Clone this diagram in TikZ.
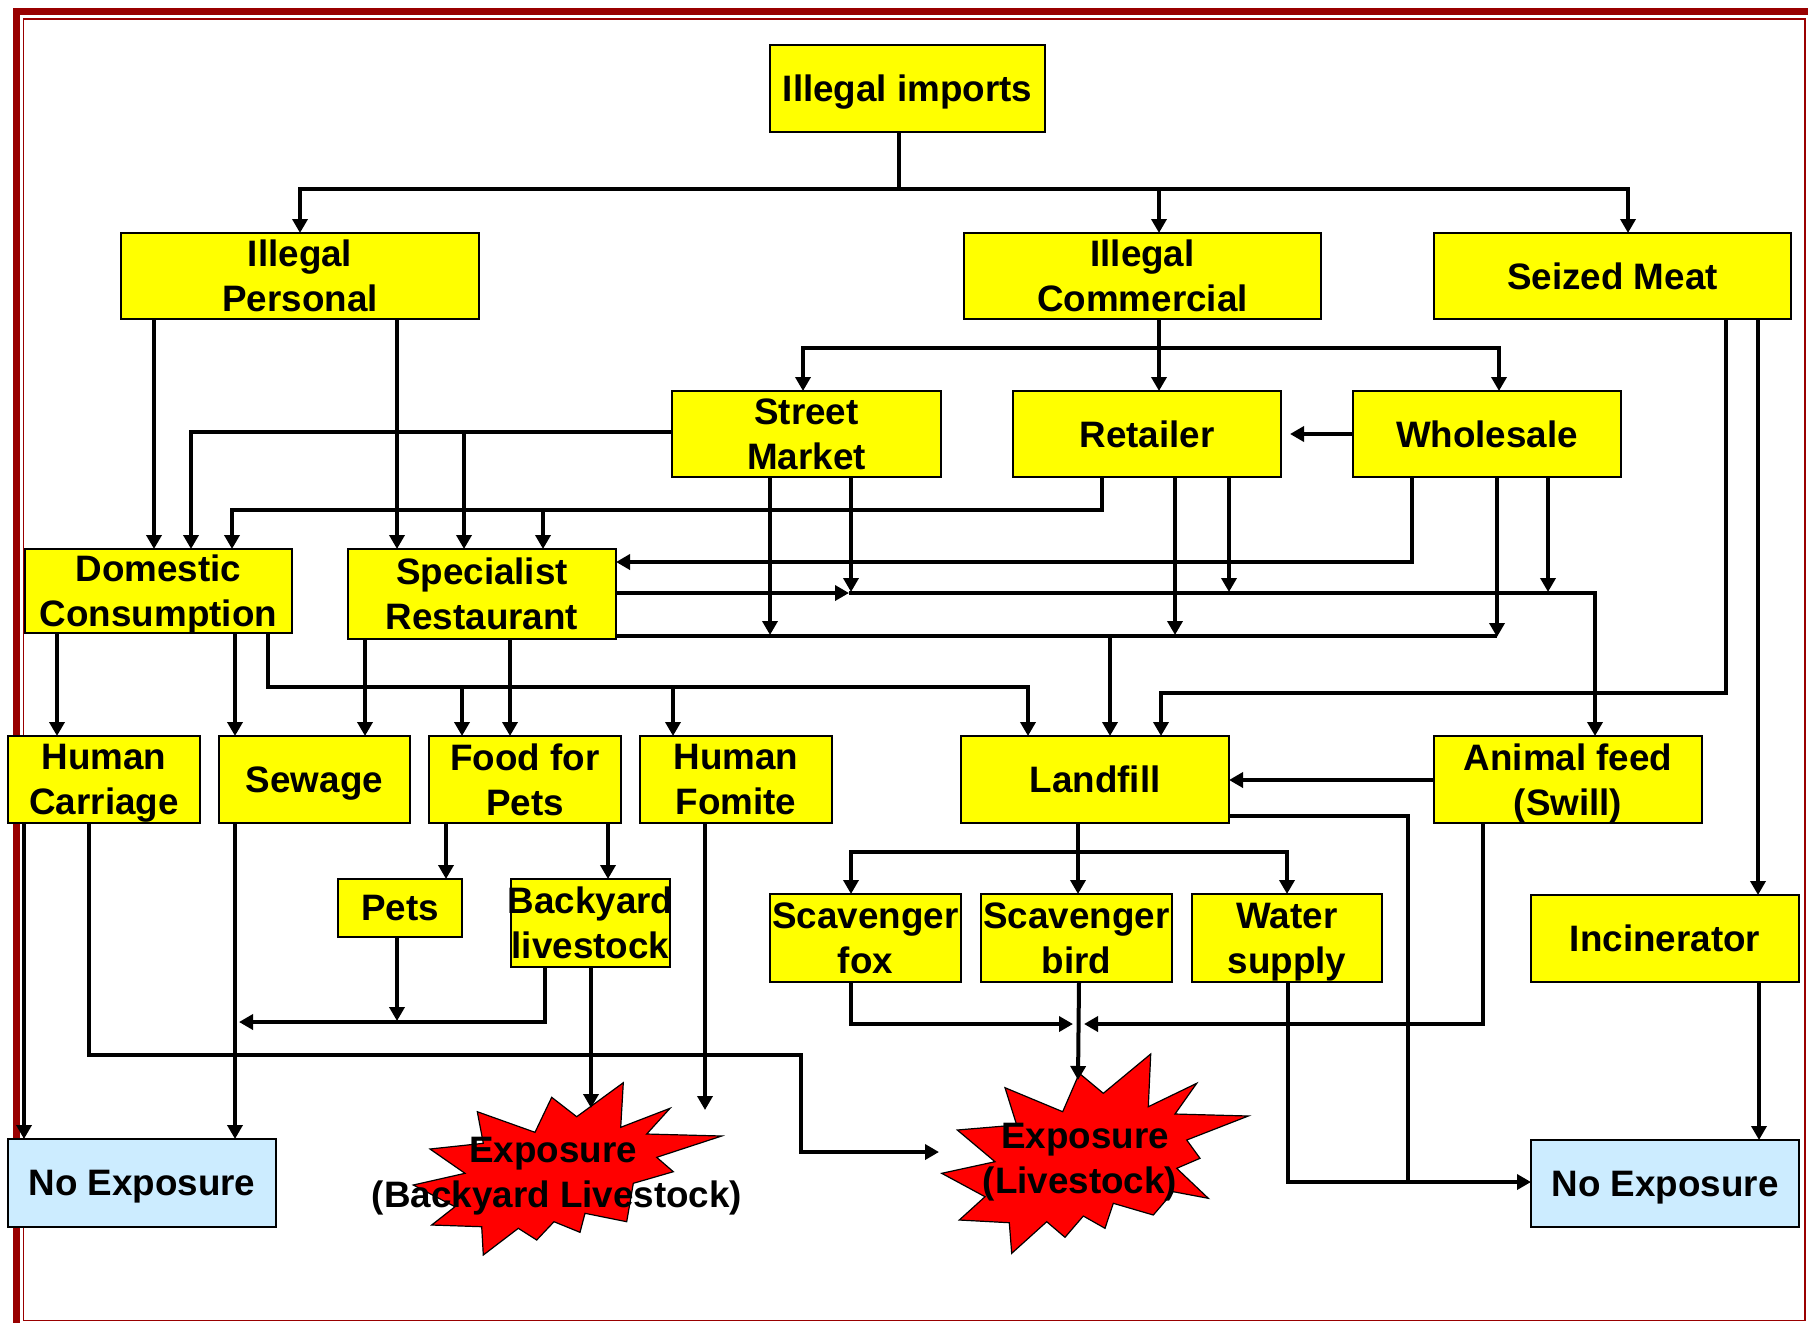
\documentclass[tikz,border=0pt]{standalone}
\usepackage{fontspec}
\setmainfont{Liberation Sans}
\usetikzlibrary{arrows.meta,fit}
\definecolor{framered}{HTML}{990000}
\definecolor{ybg}{HTML}{FFFF00}
\definecolor{bbg}{HTML}{CCECFF}
\definecolor{starred}{HTML}{FF0000}
\newcommand\bx[7]{%
  \node[#7, fit={(#2,#3) (#4,#5)}] (#1) {};
  \node[lbl] (#1t) at (#1.center) {#6};}
\begin{document}
\begin{tikzpicture}[x=0.5pt,y=-0.5pt,
  boxbase/.style={draw=black, line width=0.75pt, inner sep=0pt, outer sep=0pt, minimum size=0pt},
  yb/.style={boxbase, fill=ybg},
  bb/.style={boxbase, fill=bbg},
  lbl/.style={font=\fontsize{18.4pt}{22.5pt}\selectfont\bfseries, align=center, inner sep=0pt, text depth=0pt},
  ln/.style={line width=2pt, draw=black},
  arr/.style={ln, -{Triangle[length=7pt,width=7.5pt]}},
  starfill/.style={fill=starred, draw=black, line width=0.6pt, line join=miter}
]
\useasboundingbox (0,0) rectangle (1808,1323);
% frame
\fill[framered] (13,8) rectangle (20,1323);
\fill[framered] (13,8) rectangle (1808,15);
\draw[framered, line width=0.75pt] (23.5,19) rectangle (1805,1320.5);

% boxes
\bx{ii}{770}{45}{1045}{132}{Illegal imports}{yb}
\bx{ip}{121}{233}{479}{319}{Illegal\\Personal}{yb}
\bx{ic}{964}{233}{1321}{319}{Illegal\\Commercial}{yb}
\bx{smt}{1434}{233}{1791}{319}{Seized Meat}{yb}
\bx{st}{672}{391}{941}{477}{Street\\Market}{yb}
\bx{rt}{1013}{391}{1281}{477}{Retailer}{yb}
\bx{ws}{1353}{391}{1621}{477}{Wholesale}{yb}
\bx{dc}{25}{549}{292}{633}{Domestic\\Consumption}{yb}
\bx{sr}{348}{549}{616}{639}{Specialist\\Restaurant}{yb}
\bx{hc}{8}{736}{200}{823}{Human\\Carriage}{yb}
\bx{sw}{219}{736}{410}{823}{Sewage}{yb}
\bx{fp}{429}{736}{621}{823}{Food for\\Pets}{yb}
\bx{hf}{640}{736}{832}{823}{Human\\Fomite}{yb}
\bx{lf}{961}{736}{1229}{823}{Landfill}{yb}
\bx{af}{1434}{736}{1702}{823}{Animal feed\\(Swill)}{yb}
\bx{pets}{338}{879}{462}{937}{Pets}{yb}
\bx{by}{511}{879}{670}{967}{Backyard\\livestock}{yb}
\bx{sf}{770}{894}{961}{982}{Scavenger\\fox}{yb}
\bx{sb}{981}{894}{1172}{982}{Scavenger\\bird}{yb}
\bx{wsup}{1192}{894}{1382}{982}{Water\\supply}{yb}
\bx{inc}{1531}{895}{1799}{982}{Incinerator}{yb}
\bx{nea}{8}{1139}{276}{1227}{No Exposure}{bb}
\bx{neb}{1531}{1140}{1799}{1227}{No Exposure}{bb}

% stars
\filldraw[starfill] (623.3,1082.7) -- (620.7,1127.3) -- (670,1108.3) -- (646.7,1134) -- (721.7,1136) -- (656.7,1157.3) -- (673.3,1171.7) -- (633.3,1183.3) -- (626.7,1221.7) -- (585,1213.3) -- (580,1232.3) -- (554,1221.7) -- (536.7,1240) -- (518.3,1228.3) -- (483.3,1255) -- (481.7,1226.7) -- (431.7,1225) -- (455,1206.7) -- (413.3,1185) -- (465,1173.3) -- (430,1149) -- (483.3,1143.3) -- (477.3,1111.7) -- (535,1132.3) -- (551.7,1097.3) -- (576.7,1116.7) -- cycle;
\filldraw[starfill] (1150.7,1054) -- (1148.3,1106.7) -- (1196.7,1083.3) -- (1175,1114) -- (1248.3,1116) -- (1186.7,1140) -- (1200,1158.3) -- (1176.7,1168.3) -- (1208.3,1198.3) -- (1173.3,1191.7) -- (1153.3,1215) -- (1113.3,1203.3) -- (1105,1228.3) -- (1083.3,1216) -- (1065,1237.3) -- (1046.7,1221.7) -- (1011.7,1253.3) -- (1009.3,1222.7) -- (959.3,1220) -- (985,1196.7) -- (941.7,1173.3) -- (995,1161.7) -- (957.3,1130) -- (1016.7,1125) -- (1005,1087.7) -- (1062.7,1111.7) -- (1079.3,1073.3) -- (1103.3,1093.3) -- cycle;
\coordinate (s1in) at (591,1108);
\coordinate (hfend) at (705,1110);
\coordinate (s2in) at (939,1152);
\coordinate (s2top) at (1078,1080);

% connectors
\draw[ln] (ii.south -| 899,0) -- (899,189);
\draw[arr] (899,189) -- (300,189) -- (ip.north -| 300,0);
\draw[arr] (899,189) -- (1628,189) -- (smt.north -| 1628,0);
\draw[arr] (1159,189) -- (ic.north -| 1159,0);

\draw[arr] (ip.south -| 154,0) -- (dc.north -| 154,0);
\draw[arr] (ip.south -| 397,0) -- (sr.north -| 397,0);

\draw[arr] (ic.south -| 1159,0) -- (rt.north -| 1159,0);
\draw[arr] (1159,348) -- (803,348) -- (st.north -| 803,0);
\draw[arr] (1159,348) -- (1499,348) -- (ws.north -| 1499,0);

\draw[arr] (st.west |- 0,432) -- (191,432) -- (dc.north -| 191,0);
\draw[arr] (464,432) -- (sr.north -| 464,0);

\draw[arr] (rt.south -| 1102,0) -- (1102,510) -- (232,510) -- (dc.north -| 232,0);
\draw[arr] (543,510) -- (sr.north -| 543,0);

\draw[arr, shorten >=4.5pt] (ws.west |- 0,434) -- (rt.east |- 0,434);

\draw[arr] (ws.south -| 1412,0) -- (1412,562) -- (sr.east |- 0,562);

\draw[arr] (sr.east |- 0,593) -- (849,593);
\draw[arr] (849,593) -- (1595,593) -- (af.north -| 1595,0);
\draw[arr] (st.south -| 851,0) -- (851,592);
\draw[arr] (rt.south -| 1229,0) -- (1229,592);
\draw[arr] (ws.south -| 1548,0) -- (1548,592);

\draw[ln] (sr.east |- 0,636) -- (1497,636);
\draw[arr] (st.south -| 770,0) -- (770,635);
\draw[arr] (rt.south -| 1175,0) -- (1175,635);
\draw[arr] (ws.south -| 1497,0) -- (1497,637);
\draw[arr] (1110,636) -- (lf.north -| 1110,0);

\draw[arr] (dc.south -| 57,0) -- (hc.north -| 57,0);
\draw[arr] (dc.south -| 235,0) -- (sw.north -| 235,0);
\draw[arr] (dc.south -| 268,0) -- (268,687) -- (1028,687) -- (lf.north -| 1028,0);
\draw[arr] (462,687) -- (fp.north -| 462,0);
\draw[arr] (673,687) -- (hf.north -| 673,0);

\draw[arr] (sr.south -| 365,0) -- (sw.north -| 365,0);
\draw[arr] (sr.south -| 510,0) -- (fp.north -| 510,0);

\draw[arr] (smt.south -| 1726,0) -- (1726,693) -- (1161,693) -- (lf.north -| 1161,0);
\draw[arr] (smt.south -| 1758,0) -- (inc.north -| 1758,0);

\draw[arr] (af.west |- 0,780) -- (lf.east |- 0,780);
\draw[ln] (lf.east |- 0,816) -- (1408,816) -- (1408,1182);

\draw[arr] (lf.south -| 1078,0) -- (sb.north -| 1078,0);
\draw[arr] (1078,852) -- (851,852) -- (sf.north -| 851,0);
\draw[arr] (1078,852) -- (1287,852) -- (wsup.north -| 1287,0);

\draw[arr] (fp.south -| 446,0) -- (pets.north -| 446,0);
\draw[arr] (fp.south -| 608,0) -- (by.north -| 608,0);

\draw[arr] (pets.south -| 397,0) -- (397,1021);
\draw[arr] (by.south -| 545,0) -- (545,1022) -- (239,1022);
\draw[arr] (by.south -| 591,0) -- (s1in);
\draw[arr] (hf.south -| 705,0) -- (hfend);

\draw[arr] (sw.south -| 235,0) -- (nea.north -| 235,0);
\draw[arr] (hc.south -| 24,0) -- (nea.north -| 24,0);
\draw[arr] (hc.south -| 89,0) -- (89,1055) -- (801,1055) -- (801,1152) -- (s2in);

\draw[arr] (sf.south -| 851,0) -- (851,1024) -- (1073,1024);
\draw[arr] (af.south -| 1483,0) -- (1483,1024) -- (1084,1024);
\draw[arr] (sb.south -| 1079,0) -- (s2top);

\draw[arr] (wsup.south -| 1288,0) -- (1288,1182) -- (neb.west |- 0,1182);
\draw[arr] (inc.south -| 1759,0) -- (neb.north -| 1759,0);

% star texts
\node[lbl, anchor=base] (s1a) at (553,1162) {Exposure};
\node[lbl, anchor=base] (s1b) at (557,1207) {(Backyard Livestock)};
\node[lbl, anchor=base] (s2a) at (1085,1148) {Exposure};
\node[lbl, anchor=base] (s2b) at (1080,1193) {(Livestock)};
\end{tikzpicture}
\end{document}
